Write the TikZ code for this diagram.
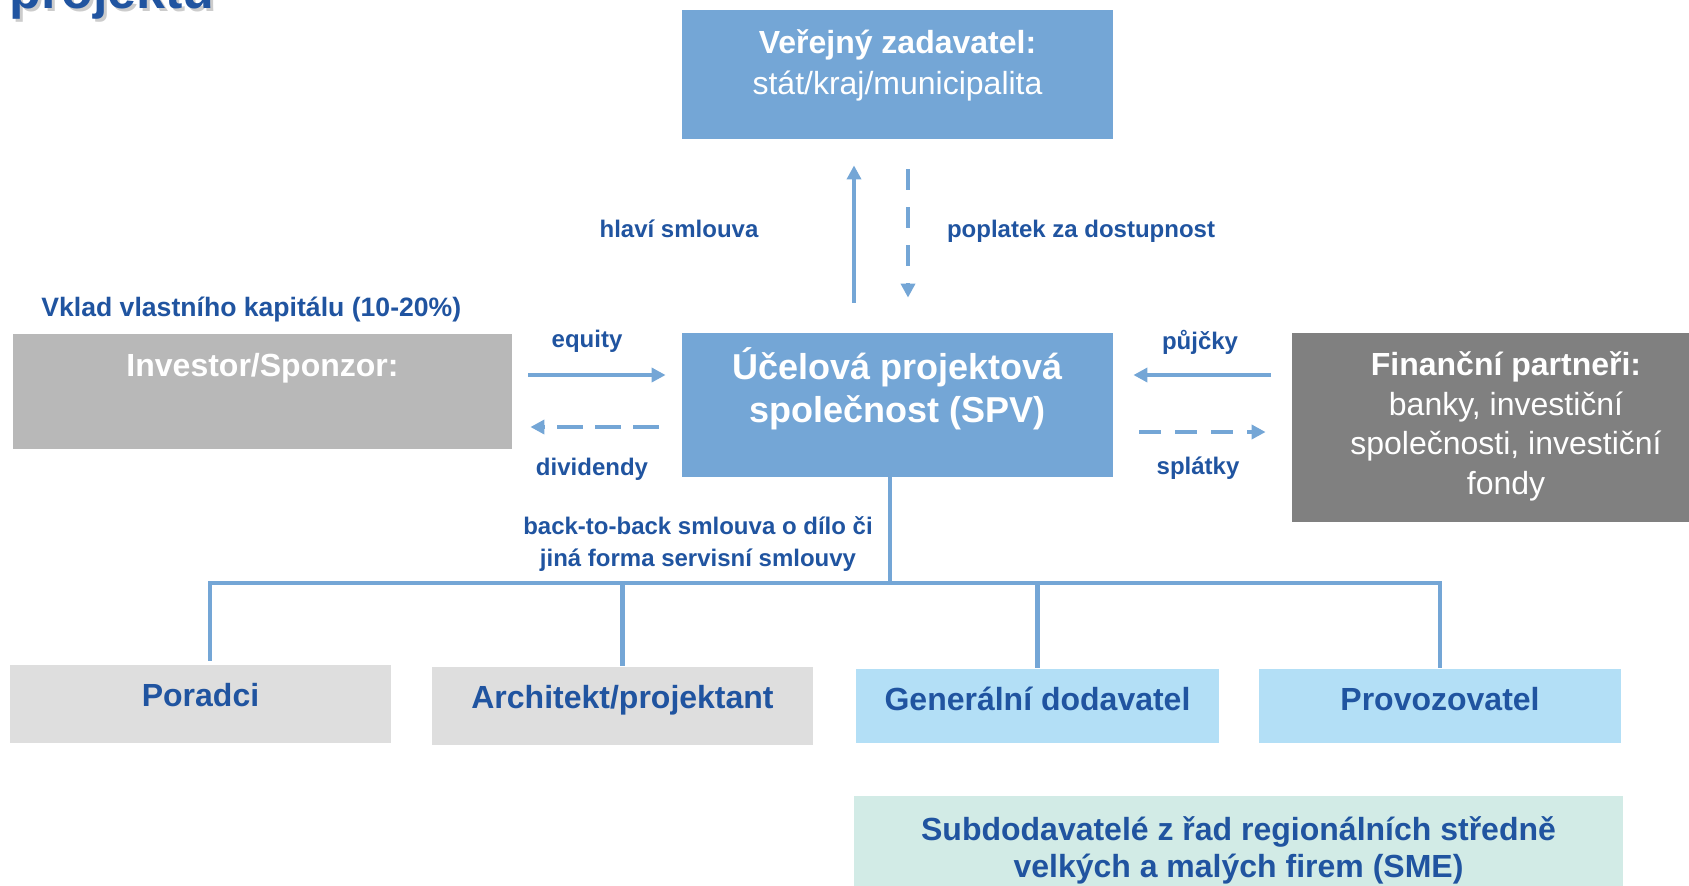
\documentclass[tikz,border=0pt]{standalone}
\usepackage{fontspec}
\setmainfont{Liberation Sans}
\usetikzlibrary{arrows.meta}

\definecolor{ppnavy}{RGB}{32,84,160}
\definecolor{ppblue}{RGB}{116,166,214}
\definecolor{ppgray}{RGB}{184,184,184}
\definecolor{ppdark}{RGB}{128,128,128}
\definecolor{pplight}{RGB}{222,222,222}
\definecolor{ppsky}{RGB}{179,223,246}
\definecolor{ppmint}{RGB}{210,235,230}

\begin{document}
\begin{tikzpicture}[x=0.5pt,y=-0.5pt,>={Triangle[width=7pt,length=7pt]},
    box/.style={rectangle,inner sep=0pt,align=center,font=\bfseries\fontsize{16}{20.5}\selectfont},
    lbl/.style={inner sep=0pt,align=center,text=ppnavy,font=\bfseries\fontsize{12}{16}\selectfont},
    arr/.style={->,draw=ppblue,line width=2.4pt},
    back/.style={arr,dash pattern=on 11pt off 7pt},
    tree/.style={-,draw=ppblue,line width=2.2pt,line cap=rect}]

    \useasboundingbox (0,0) rectangle (1689,885);

    % title, cut off by the page
    \node[anchor=base west,inner sep=0pt,text=black!20,font=\bfseries\fontsize{26}{30}\selectfont] (titleshadow) at (12,11) {projektu};
    \node[anchor=base west,inner sep=0pt,text=ppnavy,font=\bfseries\fontsize{26}{30}\selectfont] (title) at (9,8) {projektu};

    \node[box,fill=ppblue,text=white,minimum width=215.5pt,minimum height=64.5pt,text depth=12pt] (zad) at (897.5,74.5) {Veřejný zadavatel:\\\mdseries stát/kraj/municipalita};
    \node[box,fill=ppblue,text=white,minimum width=215.5pt,minimum height=72pt,text depth=20pt,font=\bfseries\fontsize{18}{21.5}\selectfont] (spv) at (897.5,405) {Účelová projektová\\společnost (SPV)};
    \node[box,fill=ppgray,text=white,minimum width=249.5pt,minimum height=57.5pt,text depth=27pt] (inv) at (262.5,391.5) {Investor/Sponzor:};
    \node[box,fill=ppdark,text=white,minimum width=214pt,minimum height=94.5pt,text depth=4.5pt,font=\fontsize{16}{19.7}\selectfont] (fin) at (1506,427.5) {\textbf{Finanční partneři:}\\banky, investiční\\společnosti, investiční\\fondy};

    \node[box,fill=pplight,text=ppnavy,minimum width=190.5pt,minimum height=39pt,text depth=9pt] (por) at (200.5,704) {Poradci};
    \node[box,fill=pplight,text=ppnavy,minimum width=190.5pt,minimum height=39pt,text depth=9pt] (arch) at (622.5,706) {Architekt/projektant};
    \node[box,fill=ppsky,text=ppnavy,minimum width=181.5pt,minimum height=37pt,text depth=7pt] (gen) at (1037.5,706) {Generální dodavatel};
    \node[box,fill=ppsky,text=ppnavy,minimum width=181pt,minimum height=37pt,text depth=7pt] (prov) at (1440,706) {Provozovatel};
    \node[box,fill=ppmint,text=ppnavy,minimum width=384.5pt,minimum height=52pt,text depth=1pt,font=\bfseries\fontsize{16}{18.3}\selectfont] (sub) at (1238.5,848) {Subdodavatelé z řad regionálních středně\\velkých a malých firem (SME)};

    % labels
    \node[lbl] (hlavni) at (679,229) {hlaví smlouva};
    \node[lbl] (poplatek) at (1081,231) {poplatek za dostupnost};
    \node[lbl,anchor=west,font=\bfseries\fontsize{13.3}{16}\selectfont] (vklad) at (41,309) {Vklad vlastního kapitálu (10-20\%)};
    \node[lbl] (equity) at (587,341) {equity};
    \node[lbl] (divid) at (592,469) {dividendy};
    \node[lbl] (pujcky) at (1200,342) {půjčky};
    \node[lbl] (splatky) at (1198,468) {splátky};
    \node[lbl] (b2b) at (698,544) {back-to-back smlouva o dílo či\\jiná forma servisní smlouvy};

    % contract and payment
    \draw[arr,shorten <=15pt,shorten >=13pt] ([xshift=-21.75pt]spv.north) -- ([xshift=-21.75pt]zad.south);
    \draw[back,dash pattern=on 10.5pt off 8.5pt,shorten <=15pt,shorten >=17.5pt] ([xshift=5.25pt]zad.south) -- ([xshift=5.25pt]spv.north);

    % investor and banks
    \coordinate (eq) at ([yshift=15pt]spv.west);
    \coordinate (dv) at ([yshift=-11pt]spv.west);
    \coordinate (pj) at ([yshift=15pt]spv.east);
    \coordinate (sp) at ([yshift=-13.5pt]spv.east);
    \draw[arr,shorten <=8pt,shorten >=8pt] (eq -| inv.east) -- (eq);
    \draw[back,dash pattern=on 13pt off 6pt,shorten <=11.5pt,shorten >=9pt] (dv) -- (dv -| inv.east);
    \draw[arr,shorten <=10.5pt,shorten >=10pt] (pj -| fin.west) -- (pj);
    \draw[back,shorten <=13pt,shorten >=13pt] (sp) -- (sp -| fin.west);

    % service contracts
    \coordinate (bus) at (0,583);
    \coordinate (sd) at ([xshift=-3.75pt]spv.south);
    \coordinate (pd) at ([xshift=4.75pt,yshift=3pt]por.north);
    \draw[tree] (sd) -- (sd |- bus);
    \draw[tree] (pd |- bus) -- (prov.north |- bus);
    \draw[tree] (pd) -- (pd |- bus);
    \foreach \b in {arch,gen,prov}
        \draw[tree] ([yshift=1.5pt]\b.north) -- (\b.north |- bus);
\end{tikzpicture}
\end{document}
